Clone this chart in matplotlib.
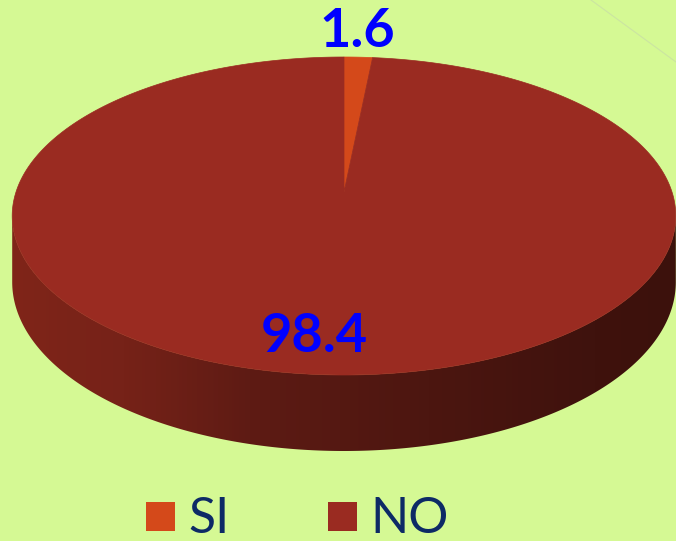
import numpy as np
import matplotlib
matplotlib.use("Agg")
from matplotlib import pyplot as plt
from matplotlib.patches import Polygon, Rectangle
from matplotlib.colors import LinearSegmentedColormap

# data
labels = ["SI", "NO"]
values = [1.6, 98.4]
colors = ["#d4491a", "#9a2b21"]

bg = "#d5f994"

# pie layout in pixels (y down)
cx, R = 344, 328
y_far, y_mid, y_near = 57, 192, 375
front_depth = 76

# perspective: sy = (a*Y + y_mid) / (1 + c*Y), Y=-1 far, Y=+1 near
c = (2 * y_mid - y_far - y_near) / (y_near - y_far)
a = y_near * (1 + c) - y_mid
h = front_depth * (1 + c)


def proj(t, down=0.0):
    X = np.sin(t)
    Y = -np.cos(t)
    d = 1 + c * Y
    return cx + R * X / d, (a * Y + y_mid) / d + down / d


fig = plt.figure(figsize=(6.76, 5.41), dpi=100)
fig.patch.set_facecolor(bg)
ax = fig.add_axes([0, 0, 1, 1])
ax.set_xlim(0, 676)
ax.set_ylim(541, 0)
ax.axis("off")
ax.set_facecolor(bg)

# faint plot-area border top right
ax.plot([591, 676], [0, 62], color="#cbe4a2", lw=0.8, zorder=1)

# side of the pie: gradient clipped to the visible band
t_r = np.arccos(c)
tt = np.linspace(t_r, 2 * np.pi - t_r, 400)
xt, yt = proj(tt)
xb, yb = proj(tt[::-1], h)
side = Polygon(list(zip(xt, yt)) + list(zip(xb, yb)), closed=True,
               facecolor="none", edgecolor="none")
ax.add_patch(side)
side_cmap = LinearSegmentedColormap.from_list(
    "side", [(0.0, "#802519"), (0.17, "#762218"), (0.36, "#5e1b14"),
             (0.63, "#4c1610"), (0.88, "#3f120d"), (1.0, "#3c110c")])
grad = np.linspace(0, 1, 512).reshape(1, -1)
im = ax.imshow(grad, cmap=side_cmap, extent=(10, 676, 460, 180), aspect="auto",
               interpolation="bilinear", zorder=2)
im.set_clip_path(side)
ax.set_xlim(0, 676)
ax.set_ylim(541, 0)

# top face slices
total = sum(values)
start = 0.0
for v, col in zip(values, colors):
    span = v / total * 2 * np.pi
    ts = np.linspace(start, start + span, max(int(span * 200), 4))
    xs, ys = proj(ts)
    pts = [(cx, y_mid)] + list(zip(xs, ys))
    ax.add_patch(Polygon(pts, closed=True, facecolor=col, edgecolor=col, lw=0.5, zorder=3))
    start += span

# value labels
lab_font = dict(family="Lato", weight="bold", size=39, color="#0000ff", zorder=5)
ax.text(357, 47, f"{values[0]:.1f}", ha="center", va="baseline", **lab_font)
ax.text(314, 352, f"{values[1]:.1f}", ha="center", va="baseline", **lab_font)

# legend
leg_x = [146, 328]
for lx, lab, col in zip(leg_x, labels, colors):
    ax.add_patch(Rectangle((lx, 502), 29, 29, facecolor=col, edgecolor="none", zorder=4))
    ax.text(lx + 42, 533, lab, ha="left", va="baseline", family="Lato",
            size=36, color="#0d2a66", zorder=5)

fig.savefig("out.png", dpi=100, facecolor=bg)
